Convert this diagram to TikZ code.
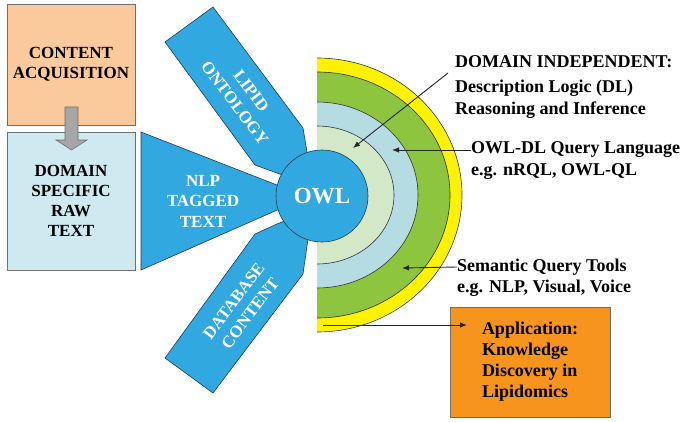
\documentclass[tikz,border=0pt]{standalone}
\usepackage{fontspec}
\setmainfont{Liberation Serif}
\usetikzlibrary{arrows.meta}
\definecolor{peach}{RGB}{250,201,156}
\definecolor{paleblue}{RGB}{207,233,241}
\definecolor{owlblue}{RGB}{49,168,224}
\definecolor{ringyellow}{RGB}{255,242,0}
\definecolor{ringgreen}{RGB}{141,197,62}
\definecolor{ringblue}{RGB}{181,220,227}
\definecolor{ringpale}{RGB}{211,232,199}
\definecolor{appor}{RGB}{247,148,30}
\definecolor{arrgray}{RGB}{166,166,166}
\definecolor{edgegray}{RGB}{110,110,110}
\definecolor{edgedark}{RGB}{30,60,90}
\begin{document}
\begin{tikzpicture}[x=1pt,y=-1pt,
  lbox/.style={draw=edgegray,line width=0.8pt,align=center,inner sep=0pt,
    font=\fontsize{17}{20}\selectfont\bfseries},
  wtxt/.style={text=white,align=center,inner sep=0pt,
    font=\fontsize{17}{20.5}\selectfont\bfseries},
  rtxt/.style={anchor=west,align=left,inner sep=0pt,
    font=\fontsize{18}{22}\selectfont\bfseries},
  blueshape/.style={fill=owlblue,draw=edgedark,line width=0.6pt},
  ringline/.style={draw=black!80,line width=0.6pt},
  arr/.style={draw=black!85,line width=0.9pt,-{Latex[length=7pt,width=5.5pt]}}]
\useasboundingbox (0,0) rectangle (685,421);

% left boxes
\node[lbox,fill=peach,minimum width=128pt,minimum height=121pt] (ca) at (71,64.5) {CONTENT\\ACQUISITION};
\node[lbox,fill=paleblue,minimum width=128pt,minimum height=138pt] (ds) at (71,201) {DOMAIN\\SPECIFIC\\RAW\\TEXT};
% gray block arrow
\fill[arrgray,draw=edgegray,line width=0.6pt]
  (65,107) -- (78,107) -- (78,140) -- (87,140) -- (71.5,150) -- (56,140) -- (65,140) -- cycle;

% rings
\fill[ringyellow] (317,58) arc[start angle=90,end angle=-90,x radius=145pt,y radius=137pt] -- cycle;
\draw[ringline] (317,58) arc[start angle=90,end angle=-90,x radius=145pt,y radius=137pt];
\fill[ringgreen] (317,72) arc[start angle=90,end angle=-90,x radius=133pt,y radius=123pt] -- cycle;
\draw[ringline] (317,72) arc[start angle=90,end angle=-90,x radius=133pt,y radius=123pt];
\fill[ringblue] (317,102) arc[start angle=90,end angle=-90,x radius=101pt,y radius=93pt] -- cycle;
\draw[ringline] (317,102) arc[start angle=90,end angle=-90,x radius=101pt,y radius=93pt];
\fill[ringpale] (317,126) arc[start angle=90,end angle=-90,x radius=77pt,y radius=69pt] -- cycle;
\draw[ringline] (317,126) arc[start angle=90,end angle=-90,x radius=77pt,y radius=69pt];

% blue input shapes
\draw[blueshape] (165,42) -- (213,7) -- (303,128) -- (307,152) -- (312,186) -- (277,173) -- (255,165) -- cycle;
\draw[blueshape] (141,132) -- (300,194) -- (300,200) -- (141,270) -- cycle;
\draw[blueshape] (165,358) -- (213,393) -- (303,274) -- (307,246) -- (312,210) -- (277,224) -- (255,234) -- cycle;
\node[wtxt,rotate=-53] (lip) at (243,97) {LIPID\\ONTOLOGY};
\node[wtxt] (nlp) at (203,201) {NLP\\TAGGED\\TEXT};
\node[wtxt,rotate=53] (dbc) at (242,307) {DATABASE\\CONTENT};

% OWL circle
\node[circle,fill=owlblue,draw=edgedark,line width=0.6pt,minimum size=92pt,inner sep=0pt,
  text=white,font=\fontsize{23}{26}\selectfont\bfseries] (owl) at (322,196) {OWL};

% right texts
\node[rtxt] (di) at (455,62) {DOMAIN INDEPENDENT:};
\node[rtxt] (dl) at (455,99) {Description Logic (DL)\\Reasoning and Inference};
\node[rtxt] (oq1) at (471,150) {OWL-DL Query Language};
\node[rtxt] (oq2) at (471,172) {e.g. nRQL, OWL-QL};
\node[rtxt] (sq1) at (457,267) {Semantic Query Tools};
\node[rtxt] (sq2) at (457,288) {e.g. NLP, Visual, Voice};
\node[draw=edgegray,line width=0.8pt,fill=appor,minimum width=160pt,minimum height=110pt,
  align=left,inner sep=0pt,font=\fontsize{18}{21}\selectfont\bfseries] (app) at (530,362)
  {Application:\\Knowledge\\Discovery in\\Lipidomics};

% connectors
\coordinate (distart) at (448,73);
\coordinate (dlend) at (353,148);
\coordinate (oqend) at (392,150);
\coordinate (sqend) at (402,268);
\coordinate (appstart) at (323,325);
\coordinate (append) at (467,325);
\draw[arr] (distart) -- (dlend);
\draw[arr] (oq1.west) -- (oqend);
\draw[arr] (sq1.west) -- (sqend);
\draw[arr] (appstart) -- (append);
\end{tikzpicture}
\end{document}
